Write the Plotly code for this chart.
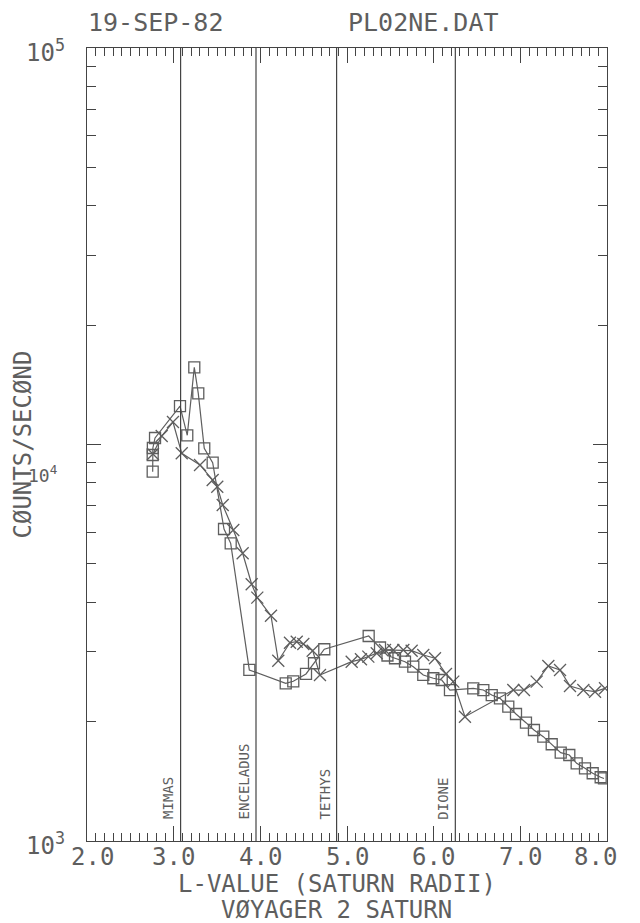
import plotly.graph_objects as go

# Square-marker series (L-value, counts/s)
sq_l = [2.758, 2.758, 2.76, 2.785, 3.073, 3.157, 3.238, 3.284, 3.353, 3.450,
        3.581, 3.658, 3.873, 4.293, 4.380, 4.527, 4.619, 4.738, 5.250, 5.381,
        5.467, 5.554, 5.669, 5.765, 5.880, 5.996, 6.093, 6.188, 6.457, 6.573,
        6.670, 6.765, 6.861, 6.950, 7.065, 7.157, 7.265, 7.362, 7.466, 7.565,
        7.650, 7.746, 7.835, 7.927, 7.965]
sq_counts = [8540, 9408, 9800, 10385, 12500, 10550, 15650, 13460, 9780, 8997,
             6121, 5634, 2700, 2499, 2528, 2638, 2807, 3045, 3289, 3076,
             2937, 2890, 2833, 2752, 2623, 2573, 2547, 2403, 2427, 2403,
             2334, 2290, 2182, 2091, 1988, 1905, 1833, 1754, 1670, 1648,
             1570, 1525, 1482, 1448, 1438]

# Cross-marker series
x_l = [2.761, 2.862, 2.992, 3.093, 3.304, 3.450, 3.503, 3.566, 3.688, 3.796,
       3.900, 3.965, 4.123, 4.207, 4.342, 4.420, 4.496, 4.604, 4.688, 5.054,
       5.161, 5.246, 5.343, 5.438, 5.534, 5.650, 5.746, 5.880, 6.015, 6.142,
       6.226, 6.361, 6.919, 7.042, 7.189, 7.323, 7.458, 7.573, 7.727, 7.862,
       7.977]
x_counts = [9460, 10506, 11394, 9502, 8879, 8136, 7826, 7038, 6086, 5317,
            4441, 4109, 3700, 2849, 3163, 3182, 3140, 3020, 2623, 2833,
            2872, 2917, 2974, 3031, 3031, 3031, 3020, 2945, 2890, 2638,
            2523, 2058, 2403, 2403, 2523, 2763, 2700, 2460, 2403, 2380,
            2427]

moon_names = ["MIMAS", "ENCELADUS", "TETHYS", "DIONE"]
moon_l = [3.08, 3.95, 4.88, 6.25]

x_ticks = [2.0, 3.0, 4.0, 5.0, 6.0, 7.0, 8.0]
x_tick_text = ["2.0", "3.0", "4.0", "5.0", "6.0", "7.0", "8.0"]
y_decades = [3, 4, 5]

INK = "#5e5e5e"
AXIS = "#444444"
FONT = "DejaVu Sans Mono"
BIG = 25
LOW = 24


def label(text, size=BIG, **kw):
    base = {"text": text, "showarrow": False, "borderpad": 0,
            "font": {"family": FONT, "size": size, "color": INK}}
    base.update(kw)
    return base


fig = go.Figure()
fig.add_trace(go.Scatter(
    x=sq_l, y=sq_counts, mode="lines+markers",
    line={"color": INK, "width": 1.2},
    marker={"symbol": "square-open", "size": 11, "color": INK, "line": {"width": 1.3}},
))
fig.add_trace(go.Scatter(
    x=x_l, y=x_counts, mode="lines+markers",
    line={"color": INK, "width": 1.2},
    marker={"symbol": "x-thin-open", "size": 12, "color": INK, "line": {"width": 1.3, "color": INK}},
))

shapes = []
annotations = []
for name, l in zip(moon_names, moon_l):
    shapes.append({"type": "line", "xref": "x", "yref": "paper", "x0": l, "x1": l,
                   "y0": 0, "y1": 1, "line": {"color": AXIS, "width": 1.2}})
    annotations.append(label(name, size=14, x=l, xref="x", y=0.026, yref="paper",
                             xanchor="right", yanchor="bottom", textangle=-90, xshift=-3))

# x tick labels (end labels sit slightly inside the frame, as in the plot)
shift = {2.0: 5, 8.0: -12}
for v, t in zip(x_ticks, x_tick_text):
    annotations.append(label(t, size=LOW, x=v, xref="x", y=0, yref="paper", yanchor="top",
                             yshift=-1, xshift=shift.get(v, 0)))

# decade labels on the log axis; the middle one is smaller and sits below its tick
ylab_style = {5: (24, -21, -3), 4: (18, -29, -29), 3: (24, -21, -3)}
for d in y_decades:
    size, xs, ys = ylab_style[d]
    annotations.append(label(f"10<sup>{d}</sup>", size=size, x=0, xref="paper", y=d, yref="y",
                             xanchor="right", yanchor="middle", xshift=xs, yshift=ys))

annotations.append(label("19-SEP-82", x=0, xref="paper", y=1, yref="paper",
                         xanchor="left", yanchor="bottom", yshift=10))
annotations.append(label("PL02NE.DAT", x=0.5, xref="paper", y=1, yref="paper",
                         xanchor="left", yanchor="bottom", yshift=10))
annotations.append(label("L-VALUE (SATURN RADII)", size=LOW, x=0.48, xref="paper", y=0,
                         yref="paper", yanchor="top", yshift=-28))
annotations.append(label("VØYAGER 2 SATURN", size=LOW, x=0.48, xref="paper", y=0,
                         yref="paper", yanchor="top", yshift=-54))
annotations.append(label("CØUNTS/SECØND", size=LOW, x=0, xref="paper", y=0.5, yref="paper",
                         xanchor="right", xshift=-50, textangle=-90))

minor_y = [m * 10 ** d for d in (3, 4) for m in range(2, 10)]

# page has an 8px body margin, so margins are reduced by 8 to keep the frame in place
fig.update_layout(
    width=640, height=923,
    margin={"l": 79, "r": 41, "t": 40, "b": 90},
    paper_bgcolor="white", plot_bgcolor="white",
    showlegend=False,
    shapes=shapes, annotations=annotations,
    xaxis={"range": [2, 8], "showgrid": False, "zeroline": False,
           "showline": True, "linecolor": AXIS, "linewidth": 1.3, "mirror": "allticks",
           "ticks": "inside", "tickvals": x_ticks, "ticklen": 15, "tickcolor": AXIS,
           "showticklabels": False,
           "minor": {"ticks": "inside", "dtick": 0.1, "tick0": 2, "ticklen": 8,
                     "tickcolor": AXIS, "showgrid": False}},
    yaxis={"type": "log", "range": [3, 5], "showgrid": False, "zeroline": False,
           "showline": True, "linecolor": AXIS, "linewidth": 1.3, "mirror": "allticks",
           "ticks": "inside", "tickvals": [1e4], "ticklen": 14, "tickcolor": AXIS,
           "showticklabels": False,
           "minor": {"ticks": "inside", "tickmode": "array", "tickvals": minor_y, "ticklen": 9,
                     "tickcolor": AXIS, "showgrid": False}},
)

fig.write_html("out.html")
